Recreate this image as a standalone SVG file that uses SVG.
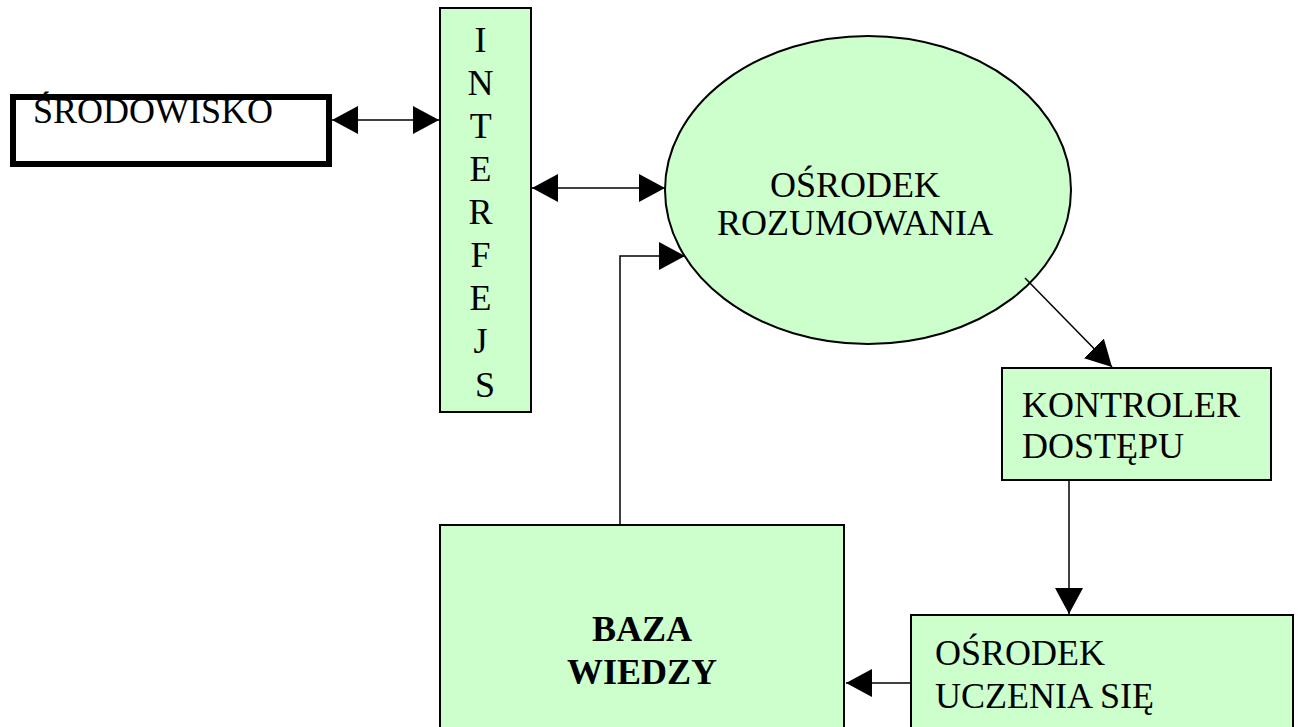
<svg xmlns="http://www.w3.org/2000/svg" width="1301" height="727" viewBox="0 0 1301 727">
<style>
  .box { fill: #CCFFCC; stroke: #000; stroke-width: 2; }
  .t { font-family: "Times New Roman", "Liberation Serif", "DejaVu Serif", serif; font-size: 36px; fill: #000; }
  .b { font-weight: bold; }
  .c { stroke: #000; stroke-width: 1.5; fill: none; }
</style>
<defs>
  <marker id="ah" markerUnits="userSpaceOnUse" markerWidth="27" markerHeight="28" refX="26" refY="14" orient="auto-start-reverse">
    <path d="M0,0 L26,14 L0,28 z" fill="#000"/>
  </marker>
</defs>
<rect width="1301" height="727" fill="#fff"/>

<g id="srodowisko">
  <rect x="13" y="97" width="316" height="67" fill="#fff" stroke="#000" stroke-width="6"/>
  <text class="t" x="33" y="123">ŚRODOWISKO</text>
</g>

<g id="interfejs">
  <rect class="box" x="440" y="8" width="91" height="404"/>
  <text class="t" text-anchor="middle">
    <tspan x="485" y="52">I</tspan>
    <tspan x="485" y="95">N</tspan>
    <tspan x="485" y="138">T</tspan>
    <tspan x="485" y="181">E</tspan>
    <tspan x="485" y="224">R</tspan>
    <tspan x="485" y="267">F</tspan>
    <tspan x="485" y="310">E</tspan>
    <tspan x="485" y="353">J</tspan>
    <tspan x="485" y="397">S</tspan>
  </text>
</g>

<g id="osrodek-rozumowania">
  <ellipse class="box" cx="868" cy="190" rx="203" ry="154" stroke-width="1.5"/>
  <text class="t" x="855" y="197" text-anchor="middle">OŚRODEK</text>
  <text class="t" x="855" y="235" text-anchor="middle">ROZUMOWANIA</text>
</g>

<g id="kontroler">
  <rect class="box" x="1002" y="368" width="269" height="112"/>
  <text class="t" x="1022" y="417">KONTROLER</text>
  <text class="t" x="1022" y="458">DOSTĘPU</text>
</g>

<g id="baza-wiedzy">
  <rect class="box" x="440" y="525" width="404" height="220"/>
  <text class="t b" x="642" y="641" text-anchor="middle">BAZA</text>
  <text class="t b" x="642" y="684" text-anchor="middle">WIEDZY</text>
</g>

<g id="osrodek-uczenia">
  <rect class="box" x="911" y="615" width="382" height="130"/>
  <text class="t" x="935" y="665">OŚRODEK</text>
  <text class="t" x="935" y="708">UCZENIA SIĘ</text>
</g>

<g id="connectors">
  <line class="c" x1="332" y1="120" x2="439" y2="120" marker-start="url(#ah)" marker-end="url(#ah)"/>
  <line class="c" x1="532" y1="188" x2="665" y2="188" marker-start="url(#ah)" marker-end="url(#ah)"/>
  <polyline class="c" points="620,525 620,256 685,256" marker-end="url(#ah)"/>
  <line class="c" x1="1025" y1="278" x2="1112" y2="367" marker-end="url(#ah)"/>
  <line class="c" x1="1069" y1="480" x2="1069" y2="614" marker-end="url(#ah)"/>
  <line class="c" x1="911" y1="683" x2="846" y2="683" marker-end="url(#ah)"/>
</g>
</svg>
